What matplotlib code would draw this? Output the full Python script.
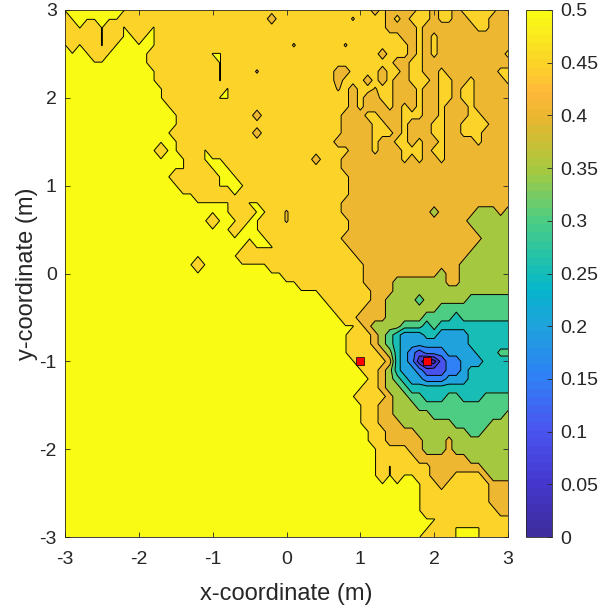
import numpy as np
import matplotlib
matplotlib.use('Agg')
import matplotlib.pyplot as plt
from matplotlib.cm import ScalarMappable
from matplotlib.colors import LinearSegmentedColormap, Normalize

# band values
BAND_VALUES = {'Y': 0.502, 'a': 0.47, 'p': 0.445, 'b': 0.42, 'c': 0.37, 'd': 0.32,
               'e': 0.27, 'f': 0.22, 'g': 0.17, 'h': 0.12, 'i': 0.07, 'j': 0.03, 'k': 0.0}

# one row per y (3.0 down to -3.0, 0.1 m apart), each token = band + last x in tenths of a metre
Z_ROWS = [
    "Y-22 a11 b12 a13 b17 a19 b20 a22 b23 a28 b30",
    "a-30 Y-23 a-3 b-2 a8 p9 a13 b14 a15 b16 a19 b20 a22 b24 a27 b30",
    "a-29 Y-28 a-26 Y-25 a-23 Y-22 a-19 Y-18 a13 b17 a18 b25 a27 b30",
    "a-26 Y-25 a-23 Y-21 a-20 Y-18 a15 b17 a18 b19 a20 b30",
    "Y-30 a-29 Y-28 a-26 Y-25 a-24 Y-18 a0 p1 a7 p8 a16 b17 a18 b19 a20 b30",
    "Y-27 a-25 Y-19 a-11 Y-9 a12 b13 a16 b17 a18 b19 a20 b29 a30",
    "Y-19 a-10 Y-9 a14 b16 a18 b30",
    "Y-18 a-10 Y-9 a-5 p-4 a6 b8 a12 b13 a15 b16 a18 b20 a21 b25 p26 b28 a30",
    "Y-18 a-10 Y-9 a6 b7 a10 b11 a12 b13 a14 b16 a19 b20 a22 b24 a25 b29 a30",
    "Y-17 a-9 Y-8 a6 p7 a8 b9 a11 p12 a14 b17 a18 b20 a22 b23 a25 b26 p27 b30",
    "Y-17 a-10 Y-8 a8 b9 a10 b12 a14 b17 a18 b20 a22 b23 a25 b30",
    "Y-16 a8 b9 a10 b13 a14 b15 a16 b17 a18 b20 a21 b24 a25 b30",
    "Y-15 a-5 b-4 a7 b10 a12 b15 a18 b20 a21 b22 p23 b24 a26 b30",
    "Y-15 a7 b11 a13 b15 a16 b19 a21 b23 a27 b30",
    "Y-16 a-5 b-4 a7 b11 a14 b15 a16 b19 a21 b23 a26 b30",
    "Y-15 a6 b11 a12 b14 a16 b17 a18 b20 a21 b25 a26 b30",
    "Y-18 a-17 Y-15 a-12 Y-11 a8 b11 a12 b15 a18 b19 a21 b30",
    "Y-14 a-12 Y-9 a3 b4 a7 b15 a16 b17 a18 b20 a21 b30",
    "Y-14 a-11 Y-8 a7 b30",
    "Y-16 a-10 Y-7 a8 b30",
    "Y-15 a-10 Y-6 a8 b30",
    "Y-13 a-8 Y-7 a8 b30",
    "Y-8 a-6 Y-4 a7 b30",
    "Y-8 a-5 Y-3 a-1 p0 a7 b19 c20 b25 c28 b29 c30",
    "Y-11 a-10 Y-7 a-6 Y-4 a-1 p0 a8 b24 c30",
    "Y-8 a-7 Y-4 a8 b25 c30",
    "Y-3 a7 b26 c30",
    "Y-6 a-5 Y-2 a8 b25 c30",
    "Y-7 a9 b24 c30",
    "Y-13 a-12 Y-3 a10 b23 c30",
    "Y-1 a10 b20 c21 b23 c30",
    "Y1 a10 b14 c21 b23 c30",
    "Y4 a11 b14 c30",
    "Y5 a11 b13 c17 d18 c24 d30",
    "Y6 a10 b13 c20 d30",
    "Y7 a9 b13 c18 d22 e23 d30",
    "Y9 a10 b11 c15 d18 e19 d20 e30",
    "Y8 a11 b12 c13 d14 e15 f18 e20 f24 e30",
    "Y8 a11 b12 c13 d14 e15 f24 e30",
    "Y8 a12 b13 c14 e15 f16 g17 h18 g21 f25 e28 d30",
    "Y9 a13 b14 e15 f16 g17 i18 k19 j20 h21 g23 f26 e30",
    "Y10 a12 b13 c14 e15 f17 g18 h21 g23 f24 e30",
    "Y11 a12 b13 c14 d15 e16 f18 g21 f24 e30",
    "Y10 a12 b13 c15 d16 e30",
    "Y9 a13 b14 c16 d18 e21 d23 e26 d30",
    "Y10 a12 b14 c17 d30",
    "Y10 a12 b14 c19 d29 c30",
    "Y10 a12 b15 c22 d27 c30",
    "Y11 a13 b17 c24 d26 c30",
    "Y11 a13 b18 c21 b22 c30",
    "Y12 a16 b18 c21 b22 c30",
    "Y12 a17 b24 c30",
    "Y12 a13 Y14 a19 b26 c30",
    "Y12 a13 Y14 a15 Y17 a19 b22 a26 b27 c30",
    "Y18 a20 b21 a27 b30",
    "Y18 a27 b30",
    "Y18 a27 b30",
    "Y18 a28 b30",
    "Y20 a30",
    "Y19 a22 Y26 a30",
    "Y18 a22 Y26 a30",
]

SENSOR_X = [1.0, 1.9]
SENSOR_Y = [-1.0, -1.0]

LEVELS = [0, 0.05, 0.1, 0.15, 0.2, 0.25, 0.3, 0.35, 0.4, 0.45, 0.5]
AXIS_TICKS = [-3, -2, -1, 0, 1, 2, 3]
CBAR_LABELS = ['0', '0.05', '0.1', '0.15', '0.2', '0.25', '0.3', '0.35', '0.4', '0.45', '0.5']

PARULA = [(0.0, '#3e2d9e'), (0.1, '#4538cf'), (0.2, '#4a55f0'), (0.3, '#2f80f5'),
          (0.4, '#1fa3dc'), (0.47, '#05b5cc'), (0.5, '#14bdb9'), (0.6, '#4acd86'),
          (0.7, '#a5c93f'), (0.8, '#eab630'), (0.85, '#ffb93a'), (0.9, '#fbd12a'),
          (1.0, '#f9fb15')]


def build_grid(rows):
    grid = np.zeros((len(rows), 61))
    for r, row in enumerate(rows):
        start = 0
        for token in row.split():
            end = int(token[1:]) + 30
            grid[r, start:end + 1] = BAND_VALUES[token[0]]
            start = end + 1
    return grid


plt.rcParams['font.family'] = ['Liberation Sans', 'DejaVu Sans']
plt.rcParams['axes.unicode_minus'] = False
DARK = '#262626'

cmap = LinearSegmentedColormap.from_list('parula', PARULA, N=64)

W, H = 601, 610
fig = plt.figure(figsize=(W / 100, H / 100), dpi=100)
ax = fig.add_axes([65 / W, 1 - 537 / H, 443 / W, 527 / H])

x = np.arange(-30, 31) / 10
y = np.arange(30, -31, -1) / 10
z = build_grid(Z_ROWS)

fill_levels = LEVELS + [1.0]
fill_colors = [cmap(lev / 0.5) for lev in LEVELS]
ax.contourf(x, y, z, levels=fill_levels, colors=fill_colors)
ax.contour(x, y, z, levels=LEVELS[1:], colors='black', linewidths=0.7)

ax.plot(SENSOR_X, SENSOR_Y, 's', color='red', markeredgecolor='black',
        markeredgewidth=0.5, markersize=5.5, linestyle='none')

ax.set_xlim(-3, 3)
ax.set_ylim(-3, 3)
ax.set_xticks(AXIS_TICKS)
ax.set_yticks(AXIS_TICKS)
ax.tick_params(direction='in', length=3.6, width=0.6, top=True, right=True,
               labelsize=14, colors=DARK)
ax.tick_params(axis='x', pad=10)
ax.tick_params(axis='y', pad=6)
ax.set_xlabel('x-coordinate (m)', fontsize=17, color=DARK, labelpad=11)
ax.set_ylabel('y-coordinate (m)', fontsize=17, color=DARK, labelpad=1)
for spine in ax.spines.values():
    spine.set_linewidth(0.6)
    spine.set_color(DARK)

cax = fig.add_axes([526 / W, 1 - 537 / H, 26 / W, 527 / H])
cb = fig.colorbar(ScalarMappable(Normalize(0, 0.5), cmap), cax=cax)
cb.set_ticks(LEVELS)
cb.set_ticklabels(CBAR_LABELS)
cb.ax.tick_params(direction='in', length=3.6, width=0.6, labelsize=14, colors=DARK, pad=6)
cb.outline.set_linewidth(0.6)
cb.outline.set_edgecolor(DARK)

fig.savefig('out.png', dpi=100)
